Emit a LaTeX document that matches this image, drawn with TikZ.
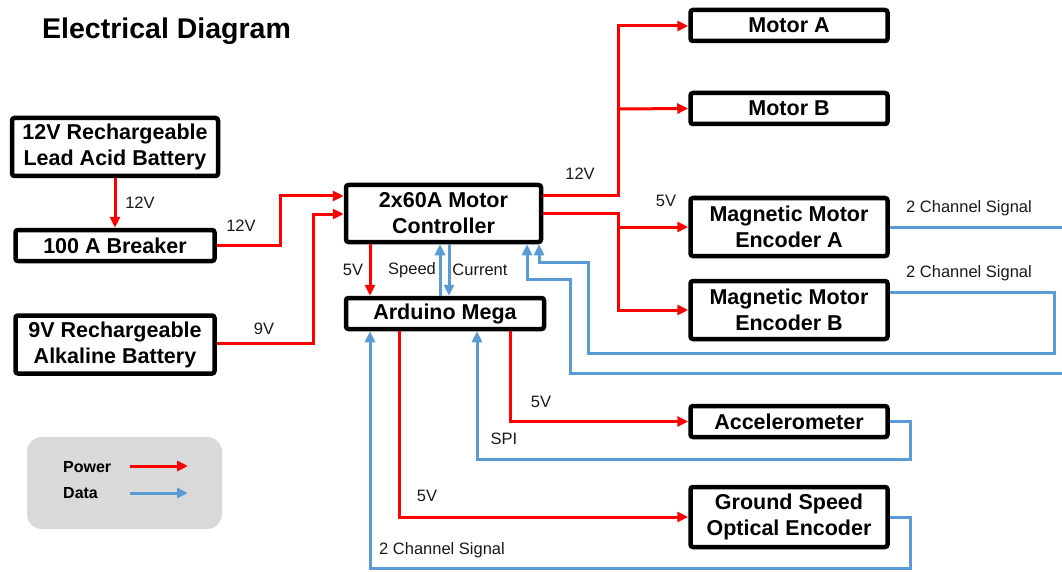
\documentclass[tikz,border=0pt]{standalone}
\usepackage{fontspec}
\setmainfont{Liberation Sans}
\usepackage{xcolor}
\usepackage{tikz}
\usetikzlibrary{calc,positioning,arrows.meta}

\definecolor{pwr}{HTML}{FF0000}
\definecolor{dat}{HTML}{5B9BD5}
\definecolor{legendgray}{HTML}{D9D9D9}

\tikzset{
  unit/.style={draw=black, line width=4.5pt, rounded corners=2.5pt, fill=white,
    align=center, inner sep=2pt, minimum width=197pt, minimum height=31pt,
    font=\bfseries\fontsize{21.5}{26}\selectfont},
  tallunit/.style={unit, minimum height=58pt},
  power/.style={draw=pwr, line width=3pt, -{Triangle[length=11pt,width=10pt]}},
  data/.style={draw=dat, line width=3pt, -{Triangle[length=11pt,width=10pt]}},
  wirelabel/.style={font=\fontsize{16.5}{18}\selectfont, text=black!90, inner sep=0pt}
}

\begin{document}
\begin{tikzpicture}[x=1pt,y=-1pt]
  \useasboundingbox (0,0) rectangle (1062,572);
  % title
  \node[anchor=west,inner sep=0pt,font=\bfseries\fontsize{28.5}{30}\selectfont] (title) at (42,31) {Electrical Diagram};
  % sources
  \node[tallunit, minimum width=206pt] (bat) at (115,147) {12V Rechargeable\\Lead Acid Battery};
  \node[unit, minimum width=199pt] (brk) at (115,245.5) {100 A Breaker};
  \node[tallunit, minimum width=199pt] (alk) at (115,344.5) {9V Rechargeable\\Alkaline Battery};
  % controllers
  \node[tallunit, minimum width=195pt, minimum height=57pt] (ctrl) at (443.5,213.5) {2x60A Motor\\Controller};
  \node[unit, minimum width=198pt] (ard) at (445,313.5) {Arduino Mega};
  % loads and sensors
  \node[unit] (motA) at (789,25.5) {Motor A};
  \node[unit] (motB) at (789,108.5) {Motor B};
  \node[tallunit] (encA) at (789,227) {Magnetic Motor\\Encoder A};
  \node[tallunit] (encB) at (789,310) {Magnetic Motor\\Encoder B};
  \node[unit] (acc) at (789,421.5) {Accelerometer};
  \node[tallunit, minimum height=60pt] (gse) at (789,517) {Ground Speed\\Optical Encoder};
  % junctions
  \coordinate (jmot) at (618,109);
  \coordinate (jenc) at (618,227);
  % power lines
  \draw[power] (bat.south) -- (bat.south |- brk.north);
  \draw[power] (brk.east) -| (280,196) -- (ctrl.west |- 0,196);
  \draw[power] (alk.east |- 0,343) -| (313,214) -- (ctrl.west |- 0,214);
  \draw[power] (ctrl.east |- 0,196) -| (618,26) -- (motA.west |- 0,26);
  \draw[power] (jmot) -- (motB.west);
  \draw[power] (ctrl.east |- 0,213) -| (618,310) -- (encB.west |- 0,310);
  \draw[power] (jenc) -- (encA.west);
  \draw[power] (ctrl.south -| 370,0) -- (ard.north -| 370,0);
  \draw[power] (ard.south -| 510,0) |- (acc.west);
  \draw[power] (ard.south -| 399,0) |- (gse.west);
  % data lines
  \draw[data] (ard.north -| 440,0) -- (ctrl.south -| 440,0);
  \draw[data] (ctrl.south -| 449,0) -- (ard.north -| 449,0);
  \draw[data] (encA.east) -| (1070,373) -| (570,279) -| (ctrl.south -| 527,0);
  \draw[data] (encB.east |- 0,292) -| (1054,353) -| (588,262) -| (ctrl.south -| 539,0);
  \draw[data] (acc.east) -| (910,459) -| (ard.south -| 477,0);
  \draw[data] (gse.east) -| (910,568) -| (ard.south -| 370,0);
  % labels
  \node[wirelabel] (l1) at (140,203) {12V};
  \node[wirelabel] (l2) at (241,226) {12V};
  \node[wirelabel] (l3) at (264,329) {9V};
  \node[wirelabel] (l4) at (580,174) {12V};
  \node[wirelabel] (l5) at (666,201) {5V};
  \node[wirelabel] (l6) at (969,208) {2 Channel Signal};
  \node[wirelabel] (l7) at (969,273) {2 Channel Signal};
  \node[wirelabel] (l8) at (353,270) {5V};
  \node[wirelabel] (l9) at (412,270) {Speed};
  \node[wirelabel] (l10) at (480,270) {Current};
  \node[wirelabel] (l11) at (541,402) {5V};
  \node[wirelabel] (l12) at (504,439) {SPI};
  \node[wirelabel] (l13) at (427,496) {5V};
  \node[wirelabel] (l14) at (442,550) {2 Channel Signal};
  % legend
  \fill[legendgray, rounded corners=15pt] (27,437) rectangle (222,529);
  \node[anchor=west,inner sep=0pt,font=\bfseries\fontsize{16}{18}\selectfont] (lpwr) at (63,467) {Power};
  \node[anchor=west,inner sep=0pt,font=\bfseries\fontsize{16}{18}\selectfont] (ldat) at (63,493) {Data};
  \coordinate (lpa) at (130,466);
  \coordinate (lpb) at (188,466);
  \coordinate (lda) at (130,493);
  \coordinate (ldb) at (188,493);
  \draw[power] (lpa) -- (lpb);
  \draw[data] (lda) -- (ldb);
\end{tikzpicture}
\end{document}
